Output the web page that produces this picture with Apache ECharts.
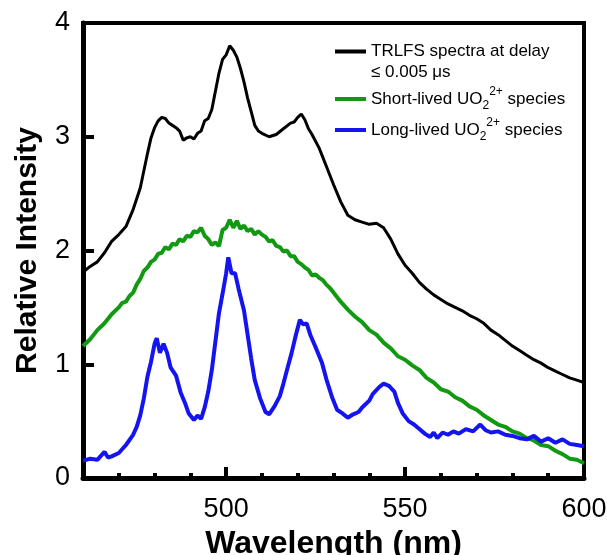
<!DOCTYPE html>
<html>
<head>
<meta charset="utf-8">
<script src="https://cdn.jsdelivr.net/npm/echarts@6/dist/echarts.min.js"></script>
<style>html,body{margin:0;padding:0;background:#fff}#c{width:607px;height:555px}</style>
</head>
<body>
<div id="c"></div>
<script>
// ---- data ----
const seriesNames = ['TRLFS spectra at delay ≤ 0.005 μs', 'Short-lived UO2 2+ species', 'Long-lived UO2 2+ species'];
const xTickLabels = [500, 550, 600];
const yTickLabels = [0, 1, 2, 3, 4];

const blackWl = [460,462,464,466,468,470,472,474,476,478,479,480,481,482,483,484,485,486,487,488,489,490,491,492,493,494,495,496,497,498,499,500,501,502,503,504,505,506,507,508,509,510,512,514,516,518,519,520,521,522,523,524,526,528,530,532,534,536,538,540,542,544,546,548,550,552,554,556,558,560,562,564,566,568,570,572,574,576,578,580,582,584,586,588,590,592,594,596,598,600];
const blackInt = [1.81,1.86,1.90,1.98,2.08,2.14,2.21,2.36,2.55,2.85,2.99,3.08,3.14,3.17,3.16,3.12,3.10,3.08,3.05,2.97,2.99,3.00,2.98,3.03,3.05,3.14,3.16,3.24,3.40,3.56,3.68,3.72,3.80,3.76,3.70,3.60,3.48,3.34,3.22,3.10,3.05,3.03,3.00,3.02,3.07,3.12,3.13,3.17,3.20,3.15,3.07,3.02,2.90,2.74,2.58,2.43,2.31,2.27,2.25,2.23,2.24,2.20,2.10,1.97,1.87,1.80,1.72,1.66,1.61,1.57,1.53,1.50,1.47,1.43,1.40,1.36,1.30,1.26,1.21,1.16,1.12,1.08,1.04,1.01,0.97,0.94,0.91,0.88,0.86,0.84];

const greenWl = [460,462,464,466,468,470,471,472,473,474,475,476,477,478,479,480,481,482,483,484,485,486,487,488,489,490,491,492,493,494,495,496,497,498,499,500,501,502,503,504,505,506,507,508,509,510,511,512,513,514,515,516,517,518,519,520,521,522,523,524,525,526,527,528,529,530,532,534,536,538,540,542,544,546,548,550,552,554,556,558,560,562,564,566,568,570,572,574,576,578,580,582,584,586,588,590,592,594,596,598,600];
const greenInt = [1.16,1.22,1.30,1.36,1.44,1.50,1.54,1.55,1.60,1.63,1.70,1.75,1.82,1.85,1.90,1.92,1.97,1.98,2.03,2.01,2.06,2.05,2.10,2.08,2.13,2.12,2.17,2.16,2.20,2.13,2.10,2.05,2.07,2.04,2.18,2.20,2.27,2.20,2.26,2.19,2.22,2.17,2.19,2.14,2.17,2.14,2.12,2.08,2.09,2.04,2.03,1.99,2.00,1.95,1.95,1.90,1.88,1.85,1.83,1.78,1.79,1.76,1.74,1.70,1.67,1.63,1.55,1.48,1.42,1.37,1.30,1.26,1.19,1.14,1.07,1.04,0.99,0.95,0.88,0.84,0.78,0.76,0.71,0.68,0.63,0.60,0.55,0.51,0.47,0.45,0.41,0.39,0.35,0.33,0.29,0.28,0.24,0.21,0.17,0.16,0.13];

const blueWl = [460,462,464,466,467,468,470,472,474,475,476,477,478,479,480,480.6,481.5,482.5,483.5,484.5,486,487.3,488.5,489.5,491,492,493,494,495,496,497,498,499,500,500.6,501.5,502.5,503.5,505,506,507,508,509.5,511,512,513.5,515,516,517,518.3,519.5,520.6,521.5,522.5,523.5,525,526.8,528,529.6,531,532.4,534,535.5,537,538,540,541,542.8,544,545.5,547,548,549.3,551,552.5,554,555.5,557,558,559,560.5,562,563.5,565,567,569,571,572.5,574,576,578,580,582,584,586,588,590,592,594,596,598,600];
const blueInt = [0.15,0.17,0.16,0.23,0.18,0.19,0.22,0.29,0.38,0.45,0.55,0.70,0.89,1.02,1.18,1.23,1.10,1.18,1.10,0.97,0.90,0.75,0.66,0.57,0.51,0.55,0.52,0.62,0.76,0.95,1.20,1.45,1.62,1.80,1.94,1.80,1.80,1.66,1.47,1.26,1.05,0.86,0.70,0.58,0.56,0.63,0.72,0.83,0.95,1.10,1.26,1.39,1.35,1.36,1.26,1.15,1.01,0.87,0.71,0.60,0.57,0.53,0.56,0.58,0.62,0.68,0.74,0.80,0.83,0.81,0.76,0.66,0.57,0.50,0.47,0.43,0.39,0.36,0.40,0.35,0.40,0.38,0.41,0.39,0.43,0.41,0.47,0.42,0.40,0.41,0.38,0.37,0.35,0.34,0.37,0.32,0.35,0.31,0.34,0.30,0.29,0.28];

const colors = ['#000000', '#129912', '#1414f0'];

// ---- chart ----
const zip = (a, b) => a.map((v, i) => [v, b[i]]);
const FONT = '"Liberation Sans", Arial, sans-serif';
const chart = echarts.init(document.getElementById('c'), null, {renderer: 'canvas'});

const richLegend = {
  e: {fontSize: 17, fontFamily: FONT, color: '#000', lineHeight: 21},
  a: {fontSize: 17, fontFamily: FONT, color: '#000', lineHeight: 21},
  n: {fontSize: 17, fontFamily: FONT, color: '#000', lineHeight: 26},
  sub: {fontSize: 12, fontFamily: FONT, color: '#000', lineHeight: 18, verticalAlign: 'bottom'},
  sup: {fontSize: 12, fontFamily: FONT, color: '#000', lineHeight: 12, verticalAlign: 'top'}
};

function legendFor(i, top) {
  return {
    data: [seriesNames[i]],
    left: 330, top: top,
    orient: 'vertical',
    icon: 'rect', itemWidth: 31, itemHeight: 4,
    selectedMode: false,
    textStyle: {fontSize: 17, fontFamily: FONT, color: '#000', rich: richLegend},
    formatter: i === 0
      ? '{e| }\n{a|TRLFS spectra at delay}\n{a|≤ 0.005 μs}'
      : (i === 1 ? '{n|Short-lived UO}{sub|2}{sup|2+}{n| species}' : '{n|Long-lived UO}{sub|2}{sup|2+}{n| species}')
  };
}

const option = {
  animation: false,
  backgroundColor: '#fff',
  color: colors,
  grid: {left: 83, right: 23, top: 23, bottom: 77, containLabel: false, outerBoundsMode: 'none',
         show: true, borderColor: '#000', borderWidth: 4, backgroundColor: 'transparent'},
  legend: [legendFor(0, 17), legendFor(1, 81), legendFor(2, 112)],
  xAxis: [{
    type: 'value', min: 460, max: 600,
    name: 'Wavelength (nm)', nameLocation: 'middle', nameGap: 49,
    nameTextStyle: {fontSize: 32, fontWeight: 'bold', fontFamily: FONT, color: '#000'},
    axisLine: {show: true, lineStyle: {color: '#000', width: 5}},
    axisTick: {show: true, inside: true, length: 11, lineStyle: {color: '#000', width: 4}, customValues: xTickLabels},
    axisLabel: {show: true, margin: 18, fontSize: 27, fontFamily: FONT, color: '#000', customValues: xTickLabels},
    splitLine: {show: false}
  }, {
    type: 'value', min: 460, max: 600, interval: 10, position: 'bottom',
    axisLine: {show: false},
    axisTick: {show: true, inside: true, length: 5, lineStyle: {color: '#000', width: 4}},
    axisLabel: {show: false},
    splitLine: {show: false}
  }],
  yAxis: {
    type: 'value', min: 0, max: 4, interval: 1,
    name: 'Relative Intensity', nameLocation: 'middle', nameGap: 40,
    nameTextStyle: {fontSize: 30, fontWeight: 'bold', fontFamily: FONT, color: '#000'},
    axisLine: {show: true, lineStyle: {color: '#000', width: 5}},
    axisTick: {show: true, inside: true, length: 11, lineStyle: {color: '#000', width: 4}},
    axisLabel: {margin: 13, fontSize: 27, fontFamily: FONT, color: '#000', formatter: v => yTickLabels.includes(v) ? String(v) : ''},
    splitLine: {show: false}
  },
  series: [
    {name: seriesNames[0], type: 'line', data: zip(blackWl, blackInt), showSymbol: false, lineStyle: {width: 3, color: colors[0]}, z: 3},
    {name: seriesNames[1], type: 'line', data: zip(greenWl, greenInt), showSymbol: false, lineStyle: {width: 4, color: colors[1]}, z: 2},
    {name: seriesNames[2], type: 'line', data: zip(blueWl, blueInt), showSymbol: false, lineStyle: {width: 4, color: colors[2]}, z: 4}
  ]
};
chart.setOption(option);
</script>
</body>
</html>
